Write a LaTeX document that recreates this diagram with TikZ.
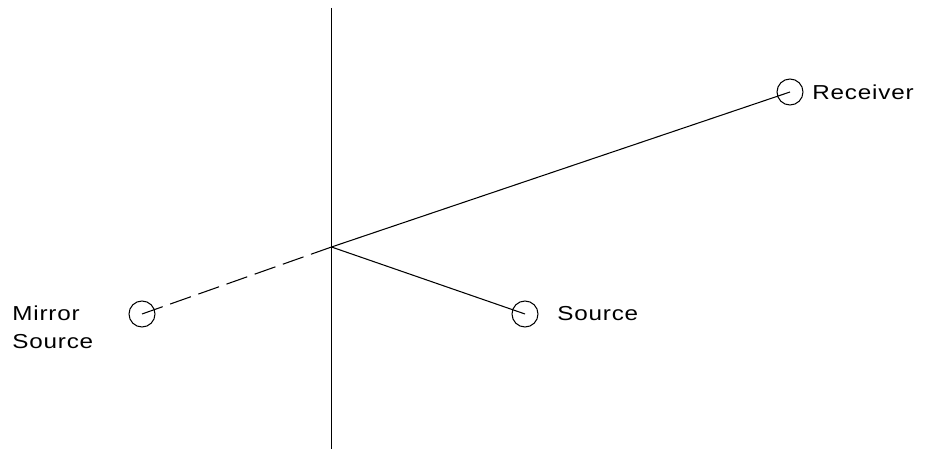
\documentclass[tikz,border=0pt]{standalone}
\usepackage{fontspec}
\setmainfont{Liberation Sans}
\usepackage{tikz}
\usetikzlibrary{positioning}

\begin{document}
\begin{tikzpicture}[
            pt/.style={circle, draw, line width=0.6pt, minimum size=0.52cm,
                       inner sep=0pt},
            lbl/.style={font=\fontsize{11.5}{16}\selectfont\addfontfeature{FakeStretch=1.2,LetterSpace=4},
                        anchor=west, inner sep=0pt, align=left},
            ray/.style={line width=0.6pt},
            mray/.style={line width=0.6pt, dash pattern=on 12.5pt off 4.5pt}
          ]
          \useasboundingbox (0,0) rectangle (18.56,9);

          % Mirror plane
          \coordinate (top) at (6.63,8.84);
          \coordinate (bot) at (6.63,0.02);
          \coordinate (hit) at (6.63,4.06);
          \draw[ray] (top) -- (bot);

          % Points
          \node[pt] (rcv) at (15.80,7.16) {};
          \node[pt] (src) at (10.50,2.72) {};
          \node[pt] (msrc) at (2.84,2.72) {};

          % Labels
          \node[lbl] (rcvl) at (16.24,7.16) {Receiver};
          \node[lbl] (srcl) at (11.14,2.72) {Source};
          \node[lbl] (msrcl) at (0.24,2.45) {Mirror\\Source};

          % Rays
          \draw[ray] (hit) -- (rcv.center);
          \draw[ray] (hit) -- (src.center);
          \draw[mray] (msrc.center) -- (hit);
        \end{tikzpicture}
\end{document}
